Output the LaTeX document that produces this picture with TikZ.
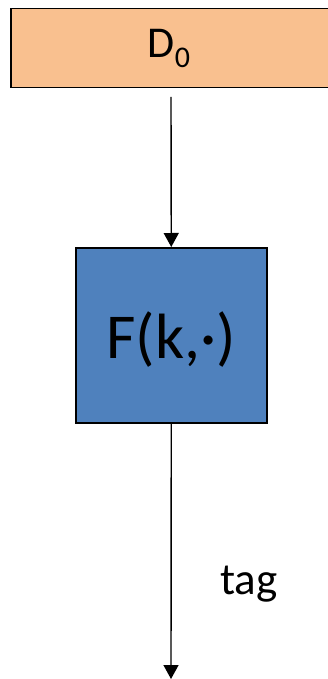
\documentclass[tikz,border=0pt]{standalone}
\usepackage{fontspec}
\setmainfont{Carlito}
\usetikzlibrary{arrows.meta}
\definecolor{boxorange}{HTML}{F9C08F}
\definecolor{boxblue}{HTML}{4F81BD}
\begin{document}
\begin{tikzpicture}[x=1pt,y=-1pt,
  block/.style={draw=black,line width=1.5pt,inner sep=0pt,anchor=north west},
  conn/.style={line width=1.4pt,-{Triangle[length=14pt,width=15pt]}}]
\useasboundingbox (0,0) rectangle (328,679);
\node[block,fill=boxorange,minimum width=318pt,minimum height=79pt] (d) at (10,8) {};
\node[font=\fontsize{44}{50}\selectfont] (dt) at (169,48) {D\raisebox{-10pt}{\fontsize{30}{32}\selectfont 0}};
\node[block,fill=boxblue,minimum width=191pt,minimum height=175pt] (f) at (75,247) {};
\node[font=\fontsize{64}{70}\selectfont] (ft) at (171,340) {F(k,·)};
\coordinate (s) at (171,97);
\coordinate (e) at (171,679);
\draw[conn] (s) -- (f.north);
\draw[conn] (f.south) -- (e);
\node[font=\fontsize{45}{48}\selectfont,anchor=base] (tag) at (249,594) {tag};
\end{tikzpicture}
\end{document}
